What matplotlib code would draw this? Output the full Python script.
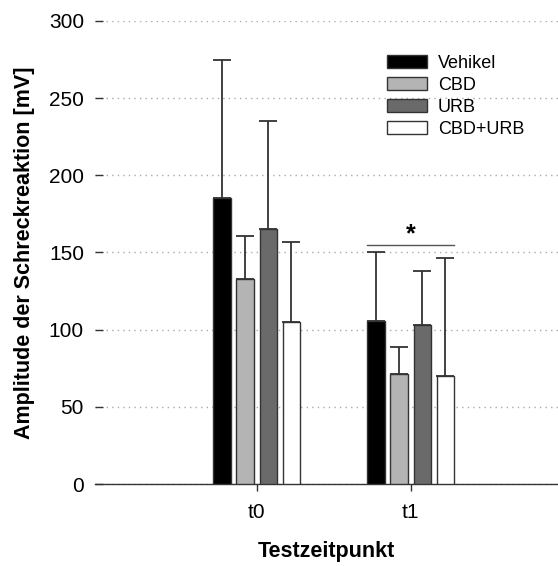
import matplotlib
matplotlib.use("Agg")
import matplotlib.pyplot as plt
import numpy as np
from matplotlib.patches import Patch

plt.rcParams['font.family'] = ['Liberation Sans', 'DejaVu Sans']

timepoints = ["t0", "t1"]
groups = ["Vehikel", "CBD", "URB", "CBD+URB"]
means = {
    "Vehikel": [185.5, 105.5],
    "CBD": [132.8, 71.3],
    "URB": [165.4, 103.2],
    "CBD+URB": [105.2, 69.8],
}
sd_upper = {
    "Vehikel": [89.5, 44.5],
    "CBD": [27.9, 17.3],
    "URB": [70.0, 34.8],
    "CBD+URB": [51.8, 76.6],
}
colors = ["#000000", "#b4b4b4", "#6a6a6a", "#ffffff"]
yticks = [0, 50, 100, 150, 200, 250, 300]
sig_level = 154.7

W, H = 558, 566
fig = plt.figure(figsize=(W / 100, H / 100), dpi=100)
ax = fig.add_axes([95 / W, 82 / H, 463 / W, 463 / H])

x = np.arange(len(timepoints))
width = 0.114
step = 0.15
offsets = (np.arange(len(groups)) - 1.5) * step

for i, g in enumerate(groups):
    ax.bar(x + offsets[i], means[g], width, color=colors[i], edgecolor="#333333",
           linewidth=1.0, zorder=3)
    ax.errorbar(x + offsets[i], means[g], yerr=[np.zeros(len(x)), sd_upper[g]],
                fmt="none", ecolor="#333333", elinewidth=1.3, capsize=6.5,
                capthick=1.3, zorder=2)

# significance bracket over t1
ax.plot([x[1] + offsets[0] - width / 2, x[1] + offsets[3] + width / 2],
        [sig_level, sig_level], color="#555555", lw=1.0)
ax.text(x[1], sig_level - 0.5, "*", ha="center", va="bottom", fontsize=18,
        fontweight="bold")

ax.set_xlim(-1.0506, 1.956)
ax.set_ylim(0, 300)
ax.set_xticks(x)
ax.set_xticklabels(timepoints, fontsize=15)
ax.set_yticks(yticks)
ax.set_yticklabels([str(v) for v in yticks], fontsize=15)
ax.tick_params(axis="y", direction="in", length=6, width=1, color="#333333", pad=8)
ax.tick_params(axis="x", length=5, width=1, color="#333333", pad=9)

for s in ["top", "right", "left"]:
    ax.spines[s].set_visible(False)
ax.spines["bottom"].set_color("#333333")
ax.spines["bottom"].set_linewidth(1.0)

ax.yaxis.grid(True, linestyle=(0, (1, 3)), color="#aaaaaa", linewidth=1.0, zorder=0)
ax.set_axisbelow(True)

ax.set_ylabel("Amplitude der Schreckreaktion [mV]", fontsize=15.5,
              fontweight="bold", labelpad=10)
ax.set_xlabel("Testzeitpunkt", fontsize=15.5, fontweight="bold", labelpad=13)

handles = [Patch(facecolor=c, edgecolor="#333333", linewidth=1.0) for c in colors]
ax.legend(handles, groups, loc="upper left",
          bbox_to_anchor=(383 / W, (H - 51) / H), bbox_transform=fig.transFigure,
          frameon=False, fontsize=13, handlelength=2.25, handleheight=0.75,
          labelspacing=0.28, handletextpad=0.6, borderaxespad=0, borderpad=0.2)

fig.savefig("out.png", dpi=100)
